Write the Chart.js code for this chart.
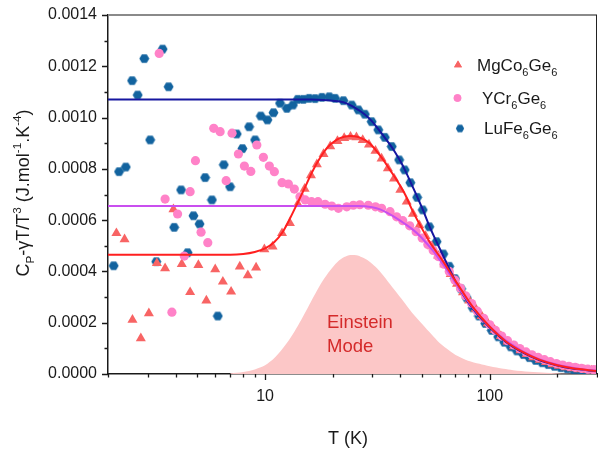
<!DOCTYPE html>
<html>
<head>
<meta charset="utf-8">
<script src="https://cdn.jsdelivr.net/npm/chart.js@4.4.1/dist/chart.umd.min.js"></script>
<style>
  html, body { margin: 0; padding: 0; background: #fff; overflow: hidden; }
  canvas { display: block; }
</style>
</head>
<body>
<canvas id="cp" width="598" height="451"></canvas>
<script>
// Cp - γT over T³ for the three kagome germanides, with Einstein-mode fits.
// Each series is a list of [T (K), value] pairs.

const mgPoints = [
  [2.18, 0.000549], [2.37, 0.000525], [2.57, 0.000211], [2.80, 0.000139], [3.04, 0.000237],
  [3.30, 0.000432], [3.59, 0.000412], [3.91, 0.000642], [4.26, 0.000429], [4.64, 0.000319],
  [5.05, 0.000425], [5.48, 0.000286], [6.0, 0.000408], [6.49, 0.00036], [7.06, 0.000321],
  [7.72, 0.000419], [8.38, 0.000385], [9.12, 0.000415], [9.93, 0.000486], [10.8, 0.000497],
  [11.9, 0.000549], [12.9, 0.000588], [14.0, 0.000663], [15.0, 0.000722], [16.0, 0.000775],
  [17.0, 0.000818], [18.2, 0.000858], [19.5, 0.000888], [21.0, 0.000908], [22.5, 0.00092],
  [24.0, 0.000925], [25.5, 0.000923], [27.2, 0.000912], [29.0, 0.000895], [31.0, 0.00087],
  [33.0, 0.00084], [35.2, 0.000802], [37.5, 0.000762], [40.0, 0.000718], [42.7, 0.000672],
  [45.5, 0.000625], [48.6, 0.00058], [51.8, 0.000538], [55.2, 0.000498], [58.9, 0.000462],
  [62.8, 0.000428], [67, 0.00039], [71.5, 0.000352], [76, 0.000318], [81, 0.000286],
  [86.5, 0.000254], [92, 0.000226], [98, 0.000198], [105, 0.000172], [112, 0.000148],
  [120, 0.000126], [128, 0.000108], [137, 0.000092], [146, 0.000078], [156, 0.000065],
  [167, 0.000055], [178, 0.000046], [190, 0.000038], [203, 0.000032], [217, 0.000026],
  [232, 0.000022], [248, 0.000018], [265, 0.000015], [283, 0.000013], [300, 0.000011],
];

const yPoints = [
  [3.38, 0.00125], [3.59, 0.000682], [3.85, 0.000241], [4.08, 0.000624], [4.37, 0.00046],
  [4.64, 0.000711], [4.90, 0.000832], [5.19, 0.000553], [5.56, 0.000512], [5.91, 0.000958],
  [6.31, 0.000945], [6.71, 0.000754], [7.13, 0.000939], [7.61, 0.000858], [8.09, 0.000811],
  [8.64, 0.00079], [9.19, 0.000893], [9.83, 0.000845], [10.45, 0.000811], [11.0, 0.000789],
  [11.9, 0.000746], [12.7, 0.000741], [13.5, 0.000721], [14.3, 0.000691], [15.1, 0.000679],
  [16.1, 0.000672], [17.2, 0.000672], [18.5, 0.000662], [19.8, 0.000655], [21.2, 0.000646],
  [23.1, 0.000652], [24.7, 0.000658], [26.4, 0.00066], [28.8, 0.000658], [31, 0.000652],
  [33, 0.000646], [36, 0.000633], [38.5, 0.000613], [41, 0.000598], [44, 0.000578],
  [47, 0.000555], [50, 0.00053], [53, 0.000505], [56, 0.000482], [59, 0.000458],
  [62.5, 0.000428], [66, 0.0004], [70, 0.000366], [74, 0.000335], [78, 0.000305],
  [83, 0.000275], [88, 0.000245], [94, 0.000217], [100, 0.000192], [106, 0.00017],
  [113, 0.000148], [120, 0.00013], [128, 0.000113], [136, 0.000099], [145, 0.000086],
  [154, 0.000075], [164, 0.000065], [175, 0.000056], [186, 0.000048], [198, 0.000041],
  [211, 0.000035], [225, 0.00003], [240, 0.000026], [256, 0.000022], [273, 0.000019],
  [290, 0.000017], [300, 0.000016],
];

const luPoints = [
  [2.12, 0.000422], [2.24, 0.000789], [2.40, 0.000807], [2.56, 0.001144], [2.71, 0.001088],
  [2.90, 0.00123], [3.08, 0.000913], [3.28, 0.000438], [3.50, 0.001267], [3.72, 0.00112],
  [3.94, 0.000572], [4.23, 0.000718], [4.52, 0.000473], [4.80, 0.000617], [5.11, 0.000585],
  [5.41, 0.000766], [5.80, 0.000679], [6.16, 0.000226], [6.55, 0.000816], [6.99, 0.00073],
  [7.48, 0.000936], [7.93, 0.000879], [8.49, 0.000964], [9.03, 0.000913], [9.57, 0.001006],
  [10.24, 0.000991], [10.9, 0.001019], [11.66, 0.001056], [12.5, 0.001036], [13.3, 0.001049],
  [13.97, 0.001071], [14.8, 0.001071], [15.7, 0.001075], [16.7, 0.001074], [17.9, 0.001079],
  [19.3, 0.001081], [20.5, 0.001075], [22.3, 0.001066], [24.3, 0.001049], [26, 0.00103],
  [27.8, 0.001013], [29.8, 0.000984], [31.9, 0.000952], [34.1, 0.000923], [36.6, 0.000887],
  [39.5, 0.000835], [41.8, 0.000796], [44.3, 0.000746], [47.5, 0.000689], [50.3, 0.00064],
  [53.8, 0.000574], [58.0, 0.000516], [62.1, 0.000468], [66, 0.00042], [70, 0.000372],
  [74.5, 0.000332], [79, 0.000296], [84, 0.000258], [89.5, 0.000226], [95.5, 0.000197],
  [102, 0.00017], [109, 0.000145], [116, 0.000124], [124, 0.000106], [132, 0.00009],
  [141, 0.000076], [150, 0.000064], [160, 0.000053], [171, 0.000044], [182, 0.000037],
  [194, 0.00003], [207, 0.000025], [221, 0.00002], [236, 0.000016], [252, 0.000013],
  [269, 0.000011], [287, 0.000009], [300, 0.000008],
];

// fitted curves
const mgFit = [
  [2, 0.000465], [7, 0.000465], [8, 0.000468], [9, 0.000476], [10, 0.00049], [11, 0.000515],
  [12, 0.000555], [13, 0.000612], [14, 0.00067], [15, 0.000725], [16, 0.000778], [17, 0.000822],
  [18.8, 0.00088], [20.8, 0.000913], [22.5, 0.000925], [23.9, 0.000928], [25, 0.000927],
  [26.4, 0.000922], [28, 0.000911], [29.2, 0.0009], [31, 0.000874], [33.6, 0.000835],
  [36, 0.000795], [38.5, 0.000757], [42, 0.0007], [45.4, 0.000635], [50, 0.000566],
  [54, 0.000515], [58, 0.000475], [61, 0.000448], [66, 0.000402], [70, 0.000366],
  [75, 0.000326], [84, 0.000262], [100, 0.000184], [118, 0.000127], [140, 0.000086],
  [166, 0.000056], [198, 0.000035], [234, 0.000022], [300, 0.000012],
];

const yFit = [
  [2, 0.000655], [26, 0.000655], [30, 0.00065], [32.5, 0.000642], [35, 0.000628],
  [38.5, 0.000607], [42, 0.000585], [45.6, 0.000562], [49, 0.000537], [52.3, 0.00051],
  [56, 0.00048], [58.9, 0.000454], [62.5, 0.000422], [66.5, 0.000388], [70, 0.000358],
  [73.6, 0.00033], [78, 0.000298], [84.2, 0.000258], [90, 0.000228], [100, 0.000184],
  [110, 0.000152], [118, 0.00013], [127, 0.000112], [140, 0.000088], [155, 0.000069],
  [166, 0.000058], [185, 0.000044], [198, 0.000037], [215, 0.00003], [234, 0.000024],
  [260, 0.000018], [300, 0.000013],
];

const luFit = [
  [2, 0.00107], [16, 0.00107], [18, 0.001069], [20, 0.001066], [22.3, 0.00106],
  [24.3, 0.001046], [26, 0.00103], [27.8, 0.001012], [29.8, 0.000987], [31.9, 0.000955],
  [34.1, 0.000922], [36.6, 0.000885], [39.5, 0.000838], [41.8, 0.000798], [44.3, 0.00075],
  [47.5, 0.000692], [50.3, 0.000642], [53.8, 0.000578], [58, 0.000515], [62.1, 0.00046],
  [66.5, 0.000405], [70, 0.000365], [75, 0.000318], [84.2, 0.000254], [100, 0.000181],
  [118, 0.000125], [140, 0.000084], [166, 0.000054], [198, 0.000034], [234, 0.000021],
  [300, 0.000011],
];

// shaded Einstein contribution
const einstein = [
  [7, 0.000003], [8, 0.000008], [9, 0.000018], [10, 0.000034], [11, 0.000062], [12, 0.0001],
  [13, 0.000142], [14, 0.000188], [15, 0.000236], [16, 0.000282], [17, 0.000325],
  [18, 0.000362], [19.5, 0.000405], [21, 0.000437], [22.5, 0.000456], [24, 0.000464],
  [25.5, 0.000463], [27, 0.000455], [29, 0.00044], [31, 0.000418], [33, 0.000392],
  [36, 0.00035], [39, 0.000311], [42, 0.000275], [45, 0.00024], [50, 0.000195],
  [55, 0.000155], [60, 0.00012], [66, 0.000092], [72, 0.00007], [80, 0.000052],
  [90, 0.00004], [100, 0.00003], [115, 0.00002], [127, 0.000015], [150, 0.000009],
  [178, 0.000005], [220, 0.000002], [300, 0],
];

const xMajor = [10, 100];
const yTickStep = 0.0002;

const C = {
  mg: '#f86464',
  y: '#ff82c8',
  lu: '#12639f',
  mgLine: '#ff1f1f',
  yLine: '#c94fef',
  luLine: '#1616a0',
  fill: '#fcc7c7',
  note: '#d42a2a',
  ink: '#1a1a1a',
};
const FONT = '"Liberation Sans", Arial, sans-serif';

const xy = (arr) => arr.map(([x, y]) => ({ x, y }));

function hexPath(ctx, cx, cy, r) {
  ctx.beginPath();
  for (let i = 0; i < 6; i++) {
    const a = (Math.PI / 3) * i;
    const px = cx + r * Math.cos(a), py = cy + r * Math.sin(a);
    i ? ctx.lineTo(px, py) : ctx.moveTo(px, py);
  }
  ctx.closePath();
}

function hexSprite(r, color) {
  const c = document.createElement('canvas');
  const s = Math.ceil(r * 2) + 1;
  c.width = s; c.height = s;
  const g = c.getContext('2d');
  g.fillStyle = color;
  hexPath(g, s / 2, s / 2, r);
  g.fill();
  return c;
}

// "MgCo_{6}Ge_{6}" -> runs of normal / sub / sup text
function runs(str) {
  const out = [];
  const re = /([_^])\{([^}]*)\}|([^_^]+)/g;
  let m;
  while ((m = re.exec(str))) {
    if (m[3]) out.push({ t: m[3] });
    else out.push({ t: m[2], sub: m[1] === '_', sup: m[1] === '^' });
  }
  return out;
}

function richWidth(ctx, parts, size) {
  let w = 0;
  for (const p of parts) {
    ctx.font = `${p.sub || p.sup ? size * 0.65 : size}px ${FONT}`;
    w += ctx.measureText(p.t).width;
  }
  return w;
}

function richText(ctx, str, x, y, size) {
  const parts = runs(str);
  let cx = x;
  for (const p of parts) {
    const s = p.sub || p.sup ? size * 0.65 : size;
    ctx.font = `${s}px ${FONT}`;
    const dy = p.sub ? size * 0.3 : p.sup ? -size * 0.42 : 0;
    ctx.fillText(p.t, cx, y + dy);
    cx += ctx.measureText(p.t).width;
  }
}

const luSprite = hexSprite(5, C.lu);
const luLegend = hexSprite(4.2, C.lu);

const legendItems = [
  { label: 'MgCo_{6}Ge_{6}', mark: 'triangle', color: C.mg, mx: 458, my: 65, tx: 477, ty: 71 },
  { label: 'YCr_{6}Ge_{6}', mark: 'circle', color: C.y, mx: 457.5, my: 98, tx: 482, ty: 104 },
  { label: 'LuFe_{6}Ge_{6}', mark: 'hex', color: C.lu, mx: 460, my: 128.5, tx: 484, ty: 134 },
];

const decorations = {
  id: 'decorations',
  afterDraw(chart) {
    const { ctx, chartArea: a, scales } = chart;
    const xs = scales.x, ys = scales.y;
    ctx.save();

    // frame: grey top, black right
    ctx.strokeStyle = '#8a8a8a';
    ctx.lineWidth = 2;
    ctx.beginPath(); ctx.moveTo(a.left, a.top); ctx.lineTo(a.right, a.top); ctx.stroke();
    ctx.strokeStyle = '#222';
    ctx.lineWidth = 1;
    ctx.beginPath(); ctx.moveTo(a.right - 0.5, a.top); ctx.lineTo(a.right - 0.5, a.bottom); ctx.stroke();

    // ticks, outward
    ctx.strokeStyle = C.ink;
    ctx.lineWidth = 1.3;
    ctx.beginPath();
    for (let i = 0; i <= 14; i++) {
      const py = Math.round(ys.getPixelForValue(i * 0.0001)) + 0.5;
      const len = i % 2 === 0 ? 6 : 3.5;
      ctx.moveTo(a.left, py); ctx.lineTo(a.left - len, py);
    }
    for (let d = 1; d <= 100; d *= 10) {
      for (let k = 1; k <= 9; k++) {
        const v = k * d;
        if (v < xs.min || v > xs.max) continue;
        const px = Math.round(xs.getPixelForValue(v)) + 0.5;
        const len = xMajor.includes(v) ? 6 : 3.5;
        ctx.moveTo(px, a.bottom); ctx.lineTo(px, a.bottom + len);
      }
    }
    ctx.stroke();

    // Einstein label
    ctx.fillStyle = C.note;
    ctx.textBaseline = 'alphabetic';
    ctx.textAlign = 'left';
    ctx.font = `18.5px ${FONT}`;
    ctx.fillText('Einstein', 327, 328);
    ctx.fillText('Mode', 327, 352);

    // legend
    for (const it of legendItems) {
      if (it.mark === 'hex') {
        ctx.drawImage(luLegend, it.mx - luLegend.width / 2, it.my - luLegend.height / 2);
      } else {
        ctx.fillStyle = it.color;
        Chart.helpers.drawPoint(ctx, {
          pointStyle: it.mark, radius: it.mark === 'triangle' ? 4.6 : 3.8, rotation: 0, borderWidth: 0,
        }, it.mx, it.my);
        ctx.fill();
      }
      ctx.fillStyle = C.ink;
      richText(ctx, it.label, it.tx, it.ty, 17);
    }

    // axis titles
    ctx.fillStyle = C.ink;
    const xt = 'T (K)';
    ctx.font = `18px ${FONT}`;
    ctx.fillText(xt, 348 - ctx.measureText(xt).width / 2, 444);

    const yt = 'C_{P}-γT/T^{3} (J.mol^{-1}.K^{-4})';
    const w = richWidth(ctx, runs(yt), 18);
    ctx.translate(29, 193);
    ctx.rotate(-Math.PI / 2);
    richText(ctx, yt, -w / 2, 0, 18);
    ctx.restore();
  },
};

// fixed axis boxes so the plot area sits at 108..597 x 15..374
function pinScale(size) {
  return (s) => {
    if (s.isHorizontal()) s.height = size; else s.width = size;
    s.paddingTop = s.paddingBottom = s.paddingLeft = s.paddingRight = 0;
  };
}

const scatterSet = (label, data, extra) => ({
  label, data: xy(data), showLine: false, borderWidth: 0, ...extra,
});
const lineSet = (label, data, color, order) => ({
  label, data: xy(data), showLine: true, borderColor: color, borderWidth: 2,
  pointRadius: 0, fill: false, cubicInterpolationMode: 'monotone', order,
});

new Chart(document.getElementById('cp'), {
  type: 'scatter',
  data: {
    datasets: [
      lineSet('MgCo6Ge6 fit', mgFit, C.mgLine, 0),
      lineSet('YCr6Ge6 fit', yFit, C.yLine, 1),
      lineSet('LuFe6Ge6 fit', luFit, C.luLine, 2),
      scatterSet('YCr6Ge6', yPoints, {
        pointStyle: 'circle', pointRadius: 4.6, backgroundColor: C.y, order: 3,
      }),
      scatterSet('MgCo6Ge6', mgPoints, {
        pointStyle: 'triangle', pointRadius: 5.8, backgroundColor: C.mg, order: 4,
      }),
      scatterSet('LuFe6Ge6', luPoints, {
        pointStyle: luSprite, pointRadius: 5, backgroundColor: C.lu, order: 5,
      }),
      {
        label: 'Einstein mode', data: xy(einstein), showLine: true, borderWidth: 0,
        borderColor: 'transparent', backgroundColor: C.fill, pointRadius: 0,
        fill: 'origin', tension: 0.3, order: 6,
      },
    ],
  },
  options: {
    responsive: false,
    animation: false,
    events: [],
    layout: { autoPadding: false, padding: { top: 15, right: 1, left: 0, bottom: 0 } },
    plugins: { legend: { display: false }, tooltip: { enabled: false } },
    scales: {
      x: {
        type: 'logarithmic',
        min: 2,
        max: 300,
        afterFit: pinScale(77),
        border: { display: true, color: C.ink, width: 1.5 },
        grid: { display: true, drawOnChartArea: false, drawTicks: false },
        ticks: {
          autoSkip: false,
          maxRotation: 0,
          padding: 13,
          color: C.ink,
          font: { family: FONT, size: 16 },
          callback: (v) => (xMajor.includes(v) ? String(v) : ''),
        },
      },
      y: {
        min: 0,
        max: 0.0014,
        afterFit: pinScale(108),
        border: { display: true, color: C.ink, width: 1.5 },
        grid: { display: true, drawOnChartArea: false, drawTicks: false },
        ticks: {
          stepSize: yTickStep,
          padding: 11,
          color: C.ink,
          font: { family: FONT, size: 16 },
          callback: (v) => v.toFixed(4),
        },
      },
    },
  },
  plugins: [decorations],
});
</script>
</body>
</html>
